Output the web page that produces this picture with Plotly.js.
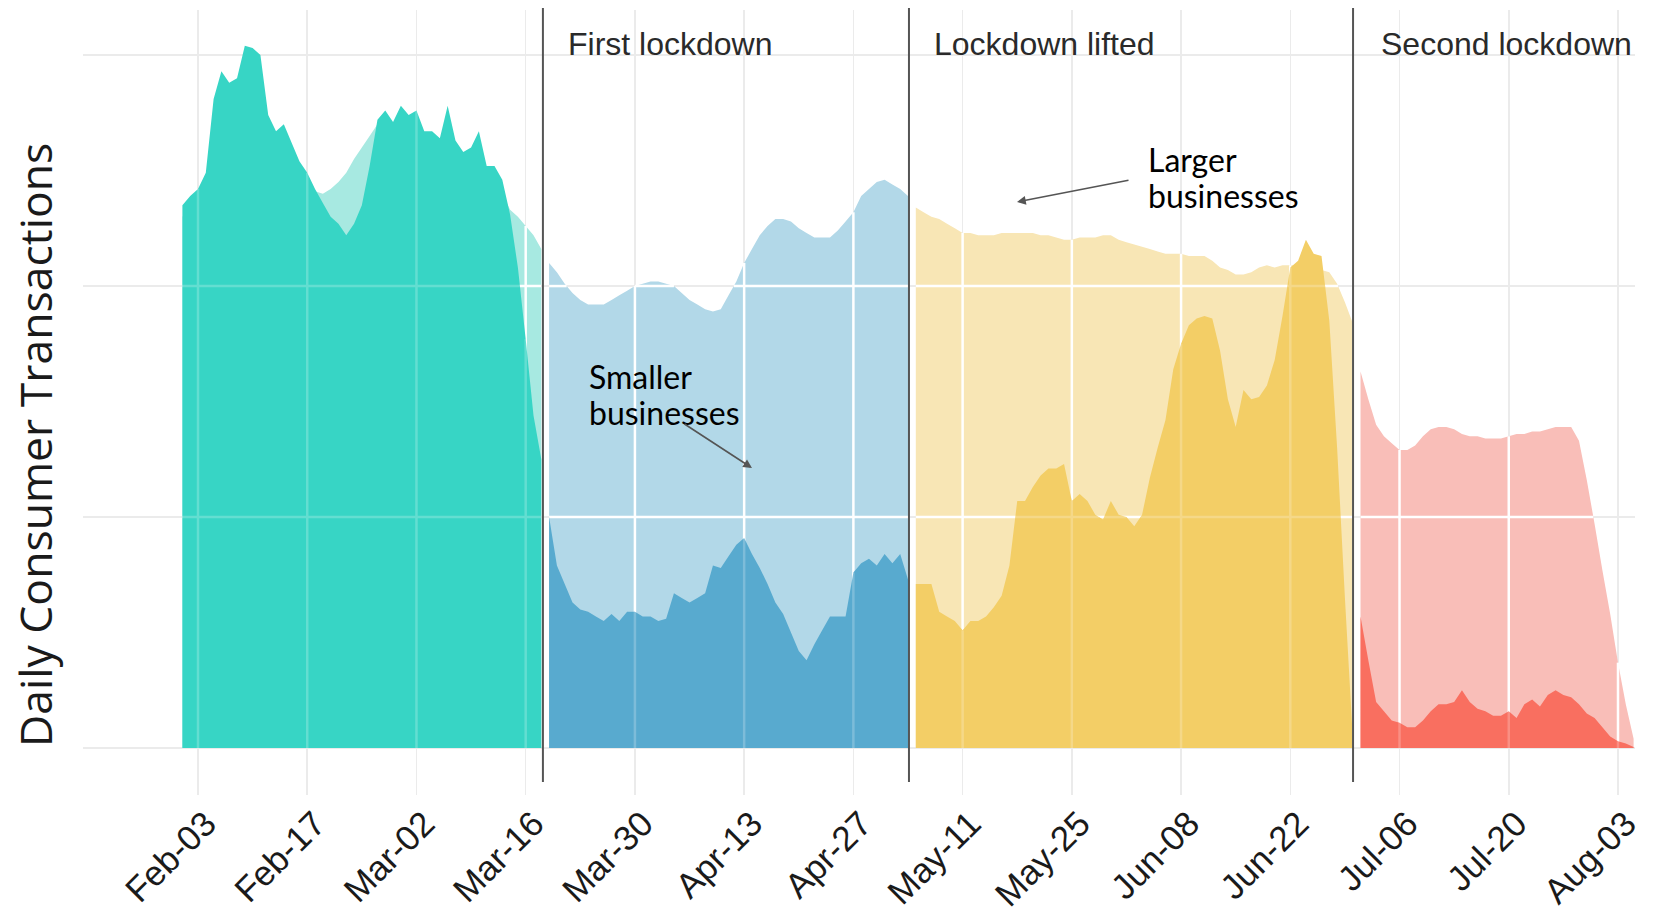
<!DOCTYPE html>
<html><head><meta charset="utf-8">
<script src="https://cdn.plot.ly/plotly-3.0.1.min.js"></script>
<style>html,body{margin:0;padding:0;background:#fff;} #chart{width:1654px;height:913px;}</style>
</head><body><div id="chart"></div>
<script>
// ---------- DATA ----------
const periodNames = ['Before lockdown', 'First lockdown', 'Lockdown lifted', 'Second lockdown'];
const periodStarts = ['2020-02-01', '2020-03-19', '2020-05-05', '2020-07-01'];

// light (background) series per period, daily values
const p1Light = [2.30,2.34,2.38,2.45,2.55,2.62,2.66,2.68,2.70,2.70,
                 2.68,2.64,2.60,2.56,2.52,2.48,2.44,2.41,2.40,2.42,
                 2.45,2.49,2.55,2.60,2.65,2.70,2.70,2.69,2.68,2.67,
                 2.66,2.64,2.62,2.60,2.58,2.56,2.54,2.52,2.50,2.47,
                 2.44,2.40,2.33,2.30,2.26,2.22,2.16];
const p1Dark  = [2.35,2.39,2.42,2.49,2.81,2.93,2.88,2.90,3.04,3.03,
                 3.00,2.74,2.67,2.70,2.62,2.54,2.49,2.42,2.36,2.30,
                 2.27,2.22,2.27,2.35,2.52,2.72,2.76,2.71,2.78,2.74,
                 2.76,2.67,2.67,2.64,2.78,2.63,2.58,2.60,2.67,2.52,
                 2.52,2.46,2.31,2.08,1.77,1.44,1.25];
const p2Light = [2.10,2.06,2.01,1.97,1.94,1.92,1.92,1.92,1.94,1.96,
                 1.98,2.00,2.01,2.02,2.02,2.01,2.00,1.97,1.94,1.92,
                 1.90,1.89,1.90,1.96,2.02,2.10,2.16,2.22,2.26,2.29,
                 2.29,2.28,2.25,2.23,2.21,2.21,2.21,2.24,2.28,2.32,
                 2.39,2.42,2.45,2.46,2.44,2.42,2.39];
const p2Dark  = [1.00,0.79,0.71,0.63,0.60,0.59,0.57,0.55,0.58,0.55,
                 0.59,0.59,0.57,0.57,0.55,0.56,0.67,0.65,0.63,0.65,
                 0.67,0.79,0.78,0.83,0.88,0.91,0.84,0.78,0.71,0.63,
                 0.58,0.50,0.42,0.38,0.45,0.51,0.57,0.57,0.57,0.76,
                 0.80,0.82,0.79,0.84,0.80,0.84,0.73];
const p3Light = [2.34,2.32,2.30,2.29,2.27,2.25,2.23,2.23,2.22,2.22,
                 2.22,2.23,2.23,2.23,2.23,2.23,2.22,2.22,2.21,2.20,
                 2.20,2.21,2.21,2.21,2.22,2.22,2.20,2.19,2.18,2.17,
                 2.16,2.15,2.14,2.14,2.14,2.13,2.13,2.13,2.11,2.08,
                 2.07,2.05,2.05,2.06,2.08,2.09,2.08,2.09,2.09,2.09,
                 2.09,2.09,2.07,2.06,2.01,1.93,1.84];
const p3Dark  = [0.71,0.71,0.71,0.59,0.57,0.55,0.51,0.55,0.55,0.57,
                 0.61,0.66,0.79,1.07,1.07,1.13,1.18,1.21,1.21,1.23,
                 1.07,1.10,1.07,1.01,0.99,1.07,1.01,1.00,0.96,1.01,
                 1.17,1.30,1.42,1.64,1.75,1.83,1.86,1.87,1.86,1.72,
                 1.51,1.39,1.55,1.51,1.52,1.57,1.68,1.87,2.08,2.11,
                 2.20,2.14,2.13,1.85,1.30,0.65,0.05];
const p4Light = [1.63,1.51,1.40,1.35,1.32,1.29,1.29,1.31,1.35,1.38,
                 1.39,1.39,1.38,1.36,1.35,1.35,1.34,1.34,1.34,1.35,
                 1.36,1.36,1.37,1.37,1.38,1.39,1.39,1.39,1.33,1.16,
                 0.97,0.77,0.58,0.37,0.19,0.04];
const p4Dark  = [0.57,0.38,0.20,0.16,0.12,0.11,0.09,0.09,0.12,0.16,
                 0.19,0.19,0.20,0.25,0.20,0.17,0.16,0.14,0.14,0.16,
                 0.13,0.19,0.21,0.18,0.23,0.25,0.23,0.22,0.19,0.15,
                 0.13,0.09,0.05,0.03,0.02,0.005];

const lightSeries = [p1Light, p2Light, p3Light, p4Light];
const darkSeries  = [p1Dark, p2Dark, p3Dark, p4Dark];
const lightColors = ['#A7E9E1', '#B2D8E8', '#F8E6B5', '#F9BEB8'];
const darkColors  = ['#37D5C5', '#58AACF', '#F3CE66', '#F96F60'];

const separatorDates = ['2020-03-18 05:00', '2020-05-04 03:00', '2020-06-30 01:00'];
const tickStart = '2020-02-03';
const tickStepDays = 14;
const tickCount = 14;
const gridLevels = [1, 2];

// ---------- HELPERS ----------
const DAY = 86400000;
function parseDay(s) { const [y, m, d] = s.split('-').map(Number); return Date.UTC(y, m - 1, d); }
function fmt(ms) {
  const d = new Date(ms); const p = n => String(n).padStart(2, '0');
  return d.getUTCFullYear() + '-' + p(d.getUTCMonth() + 1) + '-' + p(d.getUTCDate()) + ' ' +
         p(d.getUTCHours()) + ':' + p(d.getUTCMinutes()) + ':' + p(d.getUTCSeconds());
}
const tickMs = [];
for (let k = 0; k < tickCount; k++) tickMs.push(parseDay(tickStart) + k * tickStepDays * DAY);

function msDays(start, n) { const s = parseDay(start); const a = []; for (let k = 0; k < n; k++) a.push(s + k * DAY); return a; }
function interp(ms, vals, t) {
  for (let k = 1; k < ms.length; k++) {
    if (t <= ms[k]) { const f = (t - ms[k - 1]) / (ms[k] - ms[k - 1]); return vals[k - 1] + f * (vals[k] - vals[k - 1]); }
  }
  return vals[vals.length - 1];
}
function gridSegments(ms, vals) {
  const xs = [], ys = [];
  const t0 = ms[0], t1 = ms[ms.length - 1];
  tickMs.forEach(t => {
    if (t >= t0 && t <= t1) { xs.push(fmt(t), fmt(t), null); ys.push(0, interp(ms, vals, t), null); }
  });
  gridLevels.forEach(g => {
    let inSeg = vals[0] > g; let segStart = t0;
    for (let k = 1; k < vals.length; k++) {
      const a = vals[k - 1], b = vals[k]; const above = b > g;
      if (above !== inSeg) {
        const tc = ms[k - 1] + (g - a) / (b - a) * (ms[k] - ms[k - 1]);
        if (above) segStart = tc; else { xs.push(fmt(segStart), fmt(tc), null); ys.push(g, g, null); }
        inSeg = above;
      }
    }
    if (inSeg) { xs.push(fmt(segStart), fmt(t1), null); ys.push(g, g, null); }
  });
  return { xs, ys };
}

// ---------- TRACES ----------
const traces = [];
const panelMs = periodStarts.map((s, i) => msDays(s, lightSeries[i].length));
// light fills
lightSeries.forEach((vals, i) => {
  traces.push({ type: 'scatter', mode: 'none', name: periodNames[i] + ' (light)',
    x: panelMs[i].map(fmt), y: vals, fill: 'tozeroy', fillcolor: lightColors[i], hoverinfo: 'skip' });
});
// white grid over light fills
lightSeries.forEach((vals, i) => {
  const s = gridSegments(panelMs[i], vals);
  traces.push({ type: 'scatter', mode: 'lines', x: s.xs, y: s.ys, connectgaps: false,
    line: { color: '#FFFFFF', width: 2.5 }, hoverinfo: 'skip' });
});
// dark fills
darkSeries.forEach((vals, i) => {
  traces.push({ type: 'scatter', mode: 'none', name: periodNames[i] + ' (dark)',
    x: panelMs[i].map(fmt), y: vals, fill: 'tozeroy', fillcolor: darkColors[i], hoverinfo: 'skip' });
});
// faint grid over dark fills
darkSeries.forEach((vals, i) => {
  const s = gridSegments(panelMs[i], vals);
  traces.push({ type: 'scatter', mode: 'lines', x: s.xs, y: s.ys, connectgaps: false, opacity: 0.22,
    line: { color: '#FFFFFF', width: 2.5 }, hoverinfo: 'skip' });
});

// ---------- LAYOUT ----------
const L = 83, R = 1635, T = 10, B = 795;
const px = x => (x - L) / (R - L);
const py = y => (B - y) / (B - T);

const periodFont = { family: 'Liberation Sans, Arial, sans-serif', size: 32, color: '#2a2a2a' };
const noteFont = { family: 'Lato, sans-serif', size: 32, color: '#000000' };

const annotations = [
  { text: 'First lockdown', x: px(566), y: py(44), xanchor: 'left', yanchor: 'middle', font: periodFont },
  { text: 'Lockdown lifted', x: px(932), y: py(44), xanchor: 'left', yanchor: 'middle', font: periodFont },
  { text: 'Second lockdown', x: px(1379), y: py(44), xanchor: 'left', yanchor: 'middle', font: periodFont },
  { text: 'Smaller', x: px(587), y: py(376), xanchor: 'left', yanchor: 'middle', font: noteFont },
  { text: 'businesses', x: px(587), y: py(412), xanchor: 'left', yanchor: 'middle', font: noteFont },
  { text: 'Larger', x: px(1146), y: py(160), xanchor: 'left', yanchor: 'middle', font: noteFont },
  { text: 'businesses', x: px(1146), y: py(196), xanchor: 'left', yanchor: 'middle', font: noteFont },
  { text: '', x: px(752), y: py(468), showarrow: true, ax: -69, ay: -45, arrowhead: 2, arrowsize: 1.1,
    arrowwidth: 1.6, arrowcolor: '#555555', standoff: 0 },
  { text: '', x: px(1017), y: py(202), showarrow: true, ax: 113, ay: -22, arrowhead: 2, arrowsize: 1.1,
    arrowwidth: 1.6, arrowcolor: '#555555', standoff: 0 },
  { text: 'Daily Consumer Transactions', x: px(34), y: py(445), xanchor: 'center', yanchor: 'middle',
    textangle: -90, font: { family: 'Open Sans, sans-serif', size: 44.5, color: '#1a1a1a' } }
].map(a => Object.assign({ xref: 'paper', yref: 'paper', showarrow: false }, a));

const shapes = separatorDates.map(d => ({
  type: 'line', xref: 'x', yref: 'paper', x0: d, x1: d, y0: py(782), y1: py(8),
  line: { color: '#555555', width: 2 }, layer: 'above'
}));

const layout = {
  width: 1654, height: 913,
  margin: { l: L, r: 1654 - R, t: T, b: 913 - B },
  paper_bgcolor: '#FFFFFF', plot_bgcolor: '#FFFFFF',
  showlegend: false,
  xaxis: {
    type: 'date', range: ['2020-01-19 06:14', '2020-08-05 04:19'],
    tickmode: 'array', tickvals: tickMs.map(fmt), tickformat: '%b-%d', tickangle: -45,
    ticklabelshift: 8,
    showgrid: true, gridcolor: '#EBEBEB', gridwidth: 1.5, zeroline: false, showline: false, ticks: '',
    tickfont: { family: 'Liberation Sans, Arial, sans-serif', size: 35, color: '#1a1a1a' },
    fixedrange: true
  },
  yaxis: {
    range: [-0.203, 3.195], tick0: 0, dtick: 1, showticklabels: false,
    showgrid: true, gridcolor: '#EBEBEB', gridwidth: 1.5, zeroline: false, showline: false, ticks: '',
    fixedrange: true
  },
  annotations: annotations,
  shapes: shapes
};

Plotly.newPlot('chart', traces, layout, { displayModeBar: false, staticPlot: true });
</script>
</body></html>
